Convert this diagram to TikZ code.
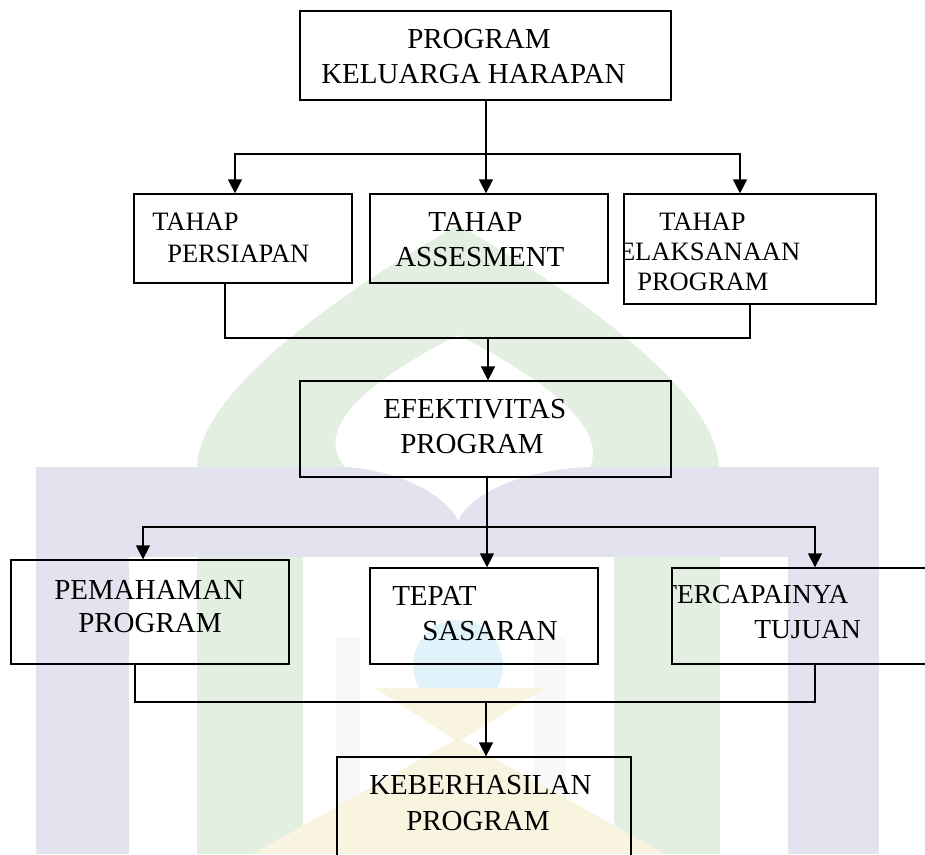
\documentclass[tikz,border=0pt]{standalone}
\usepackage{fontspec}
\setmainfont{Liberation Serif}
\usetikzlibrary{arrows.meta}

\begin{document}
\begin{tikzpicture}[x=0.75pt, y=-0.75pt,
  box/.style={draw, line width=1pt, inner sep=0pt},
  flow/.style={line width=1.2pt, -{Triangle[length=10.5pt,width=10.5pt]}},
  joinline/.style={line width=0.8pt},
  txt/.style={anchor=base west, inner sep=0pt, font=\fontsize{21.75}{26}\selectfont},
  txtsm/.style={txt, font=\fontsize{19.9}{24}\selectfont},
  txtmd/.style={txt, font=\fontsize{20.6}{25}\selectfont}]
  \definecolor{wmlav}{RGB}{227,227,239}
  \definecolor{wmgreen}{RGB}{226,239,225}
  \definecolor{wmyellow}{RGB}{248,244,224}
  \definecolor{wmblue}{RGB}{224,243,250}
  \definecolor{wmgrey}{RGB}{247,248,249}
  \clip (0,0) rectangle (925,854);

  % faint logo in the background
  \fill[wmgreen] (197,467) .. controls (200,380) and (380,270) .. (458,225)
    .. controls (536,270) and (716,380) .. (719,467) -- cycle;
  \fill[white] (345,467) .. controls (305,420) and (400,365) .. (458,335)
    .. controls (516,365) and (611,420) .. (590,467) -- cycle;
  \fill[wmlav] (36,467) rectangle (879,557);
  \fill[white] (345,467) .. controls (400,470) and (445,495) .. (458,520)
    .. controls (471,495) and (516,470) .. (590,467) -- cycle;
  \fill[wmlav] (36,557) rectangle (129,854);
  \fill[wmlav] (788,557) rectangle (879,854);
  \fill[wmgreen] (197,557) rectangle (303,854);
  \fill[wmgreen] (614,557) rectangle (720,854);
  \fill[wmgrey] (336,637) rectangle (360,854);
  \fill[wmgrey] (534,637) rectangle (566,854);
  \fill[wmblue] (458,665) circle (45);
  \fill[wmyellow] (375,688) -- (545,688) -- (458,742) -- cycle;
  \fill[wmyellow] (458,738) -- (665,854) -- (253,854) -- cycle;

  % boxes
  \node[box, minimum width=278.25pt, minimum height=66.75pt] (keluarga) at (485.5,55.5) {};
  \node[box, minimum width=163.5pt, minimum height=66.75pt] (persiapan) at (243,238.5) {};
  \node[box, minimum width=178.5pt, minimum height=66.75pt] (assesment) at (489,238.5) {};
  \node[box, minimum width=189pt, minimum height=82.5pt] (pelaksanaan) at (750,249) {};
  \node[box, minimum width=278.25pt, minimum height=72pt] (efektivitas) at (485.5,429) {};
  \node[box, minimum width=208.5pt, minimum height=78pt] (pemahaman) at (150,612) {};
  \node[box, minimum width=171pt, minimum height=72pt] (tepat) at (484,616) {};
  \node[box, minimum width=216pt, minimum height=72pt] (tercapainya) at (816,616) {};
  \node[box, minimum width=220.5pt, minimum height=84.75pt] (keberhasilan) at (484,813.5) {};

  % texts
  \node[txt] (keluarga-a) at (407,48) {PROGRAM};
  \node[txt] (keluarga-b) at (321,83) {KELUARGA HARAPAN};
  \node[txtsm] (persiapan-a) at (152,230) {TAHAP};
  \node[txtsm] (persiapan-b) at (167,262) {PERSIAPAN};
  \node[txt] (assesment-a) at (428,231) {TAHAP};
  \node[txt] (assesment-b) at (395,266) {ASSESMENT};
  \node[txtsm] (pelaksanaan-a) at (659,230) {TAHAP};
  \begin{scope}
    \clip (pelaksanaan.south west) rectangle (pelaksanaan.north east);
    \node[txtsm] (pelaksanaan-b) at (604,260) {PELAKSANAAN};
  \end{scope}
  \node[txtsm] (pelaksanaan-c) at (637,290) {PROGRAM};
  \node[txt] (efektivitas-a) at (383,418) {EFEKTIVITAS};
  \node[txt] (efektivitas-b) at (400,453) {PROGRAM};
  \node[txt] (pemahaman-a) at (54,599) {PEMAHAMAN};
  \node[txt] (pemahaman-b) at (78,632) {PROGRAM};
  \node[txt] (tepat-a) at (392,605) {TEPAT};
  \node[txt] (tepat-b) at (422,640) {SASARAN};
  \begin{scope}
    \clip (tercapainya.south west) rectangle (tercapainya.north east);
    \node[txtmd] (tercapainya-a) at (660,603) {TERCAPAINYA};
  \end{scope}
  \node[txtmd] (tercapainya-b) at (754,638) {TUJUAN};
  \node[txt] (keberhasilan-a) at (369,794) {KEBERHASILAN};
  \node[txt] (keberhasilan-b) at (406,830) {PROGRAM};

  % connectors
  \coordinate (split1) at (486,154);
  \draw[flow] (keluarga.south -| split1) -- (split1 |- assesment.north);
  \draw[flow] (split1) -| ([xshift=-6pt]persiapan.north);
  \draw[flow] (split1) -| ([xshift=-7.5pt]pelaksanaan.north);
  \coordinate (merge1) at (488,338);
  \draw[joinline] ([xshift=-13.5pt]persiapan.south) |- (merge1) -| (pelaksanaan.south);
  \draw[flow] (merge1) -- (merge1 |- efektivitas.north);
  \coordinate (split2) at (487,527);
  \draw[flow] (efektivitas.south -| split2) -- (split2 |- tepat.north);
  \draw[flow] (split2) -| ([xshift=-5.25pt]pemahaman.north);
  \draw[flow] (split2) -| ([xshift=-0.75pt]tercapainya.north);
  \coordinate (merge2) at (486,702);
  \draw[joinline] ([xshift=-11.25pt]pemahaman.south) |- (merge2) -| ([xshift=-0.75pt]tercapainya.south);
  \draw[flow] (merge2) -- (merge2 |- keberhasilan.north);
\end{tikzpicture}
\end{document}
